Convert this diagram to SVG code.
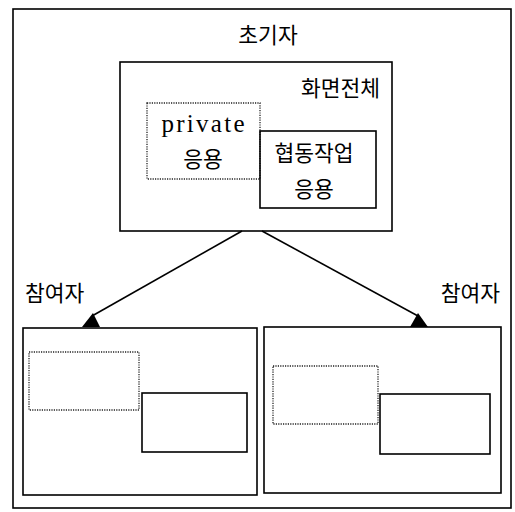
<svg xmlns="http://www.w3.org/2000/svg" width="515" height="512" viewBox="0 0 515 512">
<style>
.solid{fill:none;stroke:#000;stroke-width:1.6}
.dot{fill:none;stroke:#222;stroke-width:1.3;stroke-dasharray:1.2 1.2}
.k{font-family:"Noto Sans CJK KR","Noto Sans CJK SC",sans-serif;font-size:21.5px;fill:#000}
.e{font-family:"Liberation Serif",serif;font-size:25px;fill:#000}
.line{stroke:#000;stroke-width:1.6;fill:none}
</style>
<rect width="515" height="512" fill="#fff"/>
<g id="frame">
<rect x="13" y="9" width="498" height="499" class="solid" stroke-width="1.3"/>
<text x="268" y="43" text-anchor="middle" class="k">초기자</text>
</g>
<g id="initiator-screen">
<rect x="120" y="62" width="272" height="169" class="solid"/>
<text x="380" y="96" text-anchor="end" class="k">화면전체</text>
</g>
<g id="private-app">
<rect x="147" y="103" width="113" height="76" class="dot"/>
<text x="203" y="132" text-anchor="middle" class="e" textLength="83" lengthAdjust="spacing">private</text>
<text x="203" y="167" text-anchor="middle" class="k">응용</text>
</g>
<g id="collab-app">
<rect x="260" y="131" width="116" height="77" class="solid"/>
<text x="314" y="161" text-anchor="middle" class="k">협동작업</text>
<text x="314" y="197" text-anchor="middle" class="k">응용</text>
</g>
<g id="participant-left">
<text x="25" y="301" class="k">참여자</text>
<rect x="23" y="328" width="234" height="167" class="solid"/>
<rect x="29" y="352" width="110" height="58" class="dot"/>
<rect x="142" y="393" width="105" height="59" class="solid"/>
</g>
<g id="participant-right">
<text x="500" y="301" text-anchor="end" class="k">참여자</text>
<rect x="264" y="327" width="237" height="166" class="solid"/>
<rect x="273" y="366" width="105" height="58" class="dot"/>
<rect x="380" y="394" width="110" height="60" class="solid"/>
</g>
<g id="connectors">
<line x1="242" y1="231" x2="92" y2="316" class="line"/>
<polygon points="82,327 100,327 93,313" fill="#000"/>
<line x1="262" y1="231" x2="418" y2="316" class="line"/>
<polygon points="410,327 428,327 418,313" fill="#000"/>
</g>
</svg>
